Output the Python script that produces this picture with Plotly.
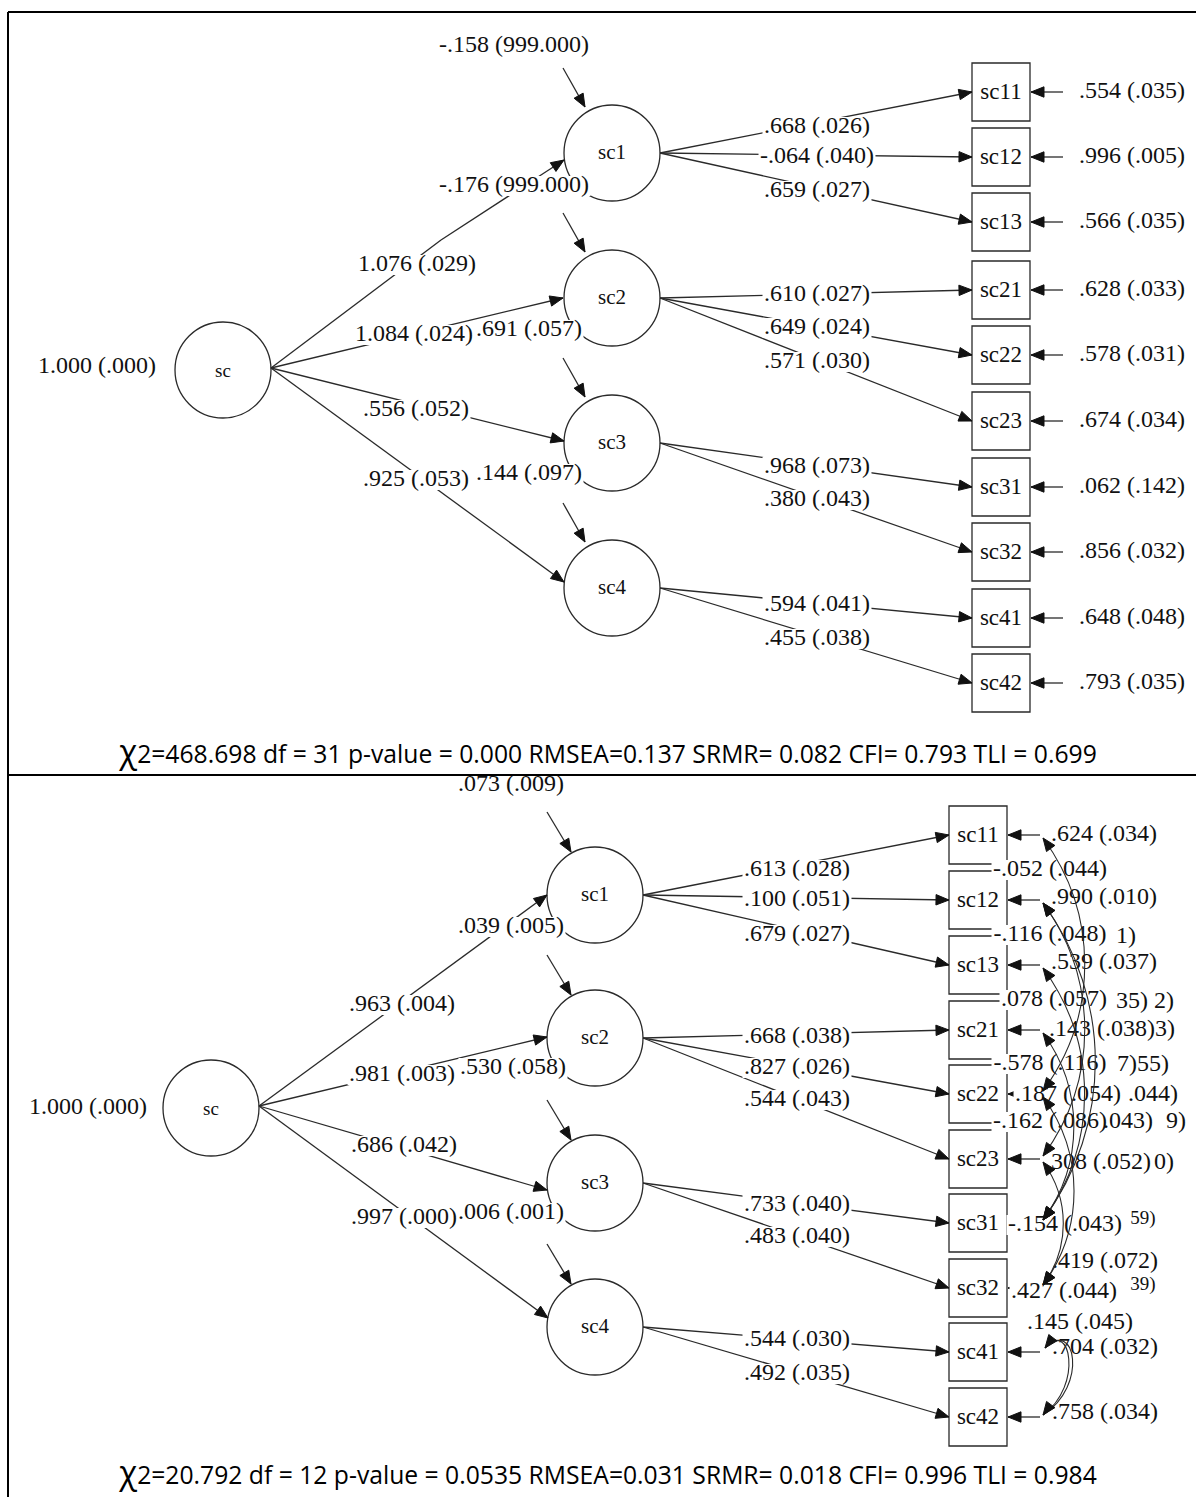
import plotly.graph_objects as go

W, H = 1196, 1497

# ---------------- values ----------------
latent_names = ["sc1", "sc2", "sc3", "sc4"]
indicator_names = ["sc11", "sc12", "sc13", "sc21", "sc22", "sc23", "sc31", "sc32", "sc41", "sc42"]
indicator_factor = [0, 0, 0, 1, 1, 1, 2, 2, 3, 3]

top_sc_variance = "1.000 (.000)"
top_structural = ["1.076 (.029)", "1.084 (.024)", ".556 (.052)", ".925 (.053)"]
top_latent_resid = ["-.158 (999.000)", "-.176 (999.000)", ".691 (.057)", ".144 (.097)"]
top_loadings = [".668 (.026)", "-.064 (.040)", ".659 (.027)", ".610 (.027)", ".649 (.024)",
                ".571 (.030)", ".968 (.073)", ".380 (.043)", ".594 (.041)", ".455 (.038)"]
top_residuals = [".554 (.035)", ".996 (.005)", ".566 (.035)", ".628 (.033)", ".578 (.031)",
                 ".674 (.034)", ".062 (.142)", ".856 (.032)", ".648 (.048)", ".793 (.035)"]
top_fit = "2=468.698 df = 31 p-value = 0.000 RMSEA=0.137 SRMR= 0.082 CFI= 0.793 TLI = 0.699"

bot_sc_variance = "1.000 (.000)"
bot_structural = [".963 (.004)", ".981 (.003)", ".686 (.042)", ".997 (.000)"]
bot_latent_resid = [".073 (.009)", ".039 (.005)", ".530 (.058)", ".006 (.001)"]
bot_loadings = [".613 (.028)", ".100 (.051)", ".679 (.027)", ".668 (.038)", ".827 (.026)",
                ".544 (.043)", ".733 (.040)", ".483 (.040)", ".544 (.030)", ".492 (.035)"]
bot_residuals = [".624 (.034)", ".990 (.010)", ".539 (.037)", ".143 (.038)", ".187 (.054)",
                 ".308 (.052)", "-.154 (.043)", ".427 (.044)", ".704 (.032)", ".758 (.034)"]
bot_covariances = ["-.052 (.044)", "-.116 (.048)", ".078 (.057)", "-.578 (.116)",
                   "-.162 (.086)", ".419 (.072)", ".145 (.045)"]
bot_fragments = ["1)", "35) 2)", "3)", "7)55)", ".044)", ".043)", "9)", "0)", "59)", "39)"]
bot_fit = "2=20.792 df = 12 p-value = 0.0535 RMSEA=0.031 SRMR= 0.018 CFI= 0.996 TLI = 0.984"

# ---------------- layout (positions in pixels) ----------------
TOP = dict(sc=(223, 370), lat_x=612, lat_y=[153, 298, 443, 588], r=48,
           box_x=(972, 1030), box_y=[92, 157, 222, 290, 355, 421, 487, 552, 618, 683],
           sc_var=(97, 367), struct_start=(271, 368),
           struct_via=[(441, 240), None, None, None],
           struct_end=[(564, 160), (563, 298), (564, 441), (564, 582)],
           struct_lbl=[(417, 265), (414, 335), (416, 410), (416, 480)],
           latres_lbl=[(514, 46), (514, 186), (529, 330), (529, 474)],
           latres_arrow=((-49, -85), (-27, -46)),
           load_x=817, load_y=[127, 157, 191, 295, 328, 362, 467, 500, 605, 639],
           res_pos=[(1132, y) for y in [92, 157, 222, 290, 355, 421, 487, 552, 618, 683]],
           res_arrow=(1063, 1031), fit_y=757)
BOT = dict(sc=(211, 1108), lat_x=595, lat_y=[895, 1038, 1183, 1327], r=48,
           box_x=(949, 1007), box_y=[835, 900, 965, 1030, 1094, 1159, 1223, 1288, 1352, 1417],
           sc_var=(88, 1108), struct_start=(259, 1106),
           struct_via=[None, None, None, None],
           struct_end=[(547, 895), (547, 1037), (547, 1190), (548, 1318)],
           struct_lbl=[(402, 1005), (402, 1075), (404, 1146), (404, 1218)],
           latres_lbl=[(511, 785), (511, 927), (513, 1068), (511, 1213)],
           latres_arrow=((-48, -83), (-24, -43)),
           load_x=797, load_y=[870, 900, 935, 1037, 1068, 1100, 1205, 1237, 1340, 1374],
           res_pos=[(1104, 835), (1104, 898), (1104, 963), (1102, 1030), (1068, 1095),
                    (1098, 1163), (1065, 1225), (1064, 1292), (1105, 1348), (1105, 1413)],
           res_arrow=(1040, 1008), fit_y=1478)
bot_cov_pos = [(1050, 870), (1050, 935), (1054, 1000), (1050, 1064), (1050, 1122),
               (1105, 1262), (1080, 1323)]
bot_frag_pos = [(1126, 937), (1145, 1002), (1165, 1030), (1143, 1065), (1153, 1095),
                (1128, 1122), (1176, 1122), (1164, 1163), (1143, 1219), (1143, 1285)]
# covariance arcs between indicator rows of the lower model (row_i, row_j)
bot_arcs = [(0, 4), (1, 5), (1, 6), (2, 6), (3, 6), (4, 7), (5, 7)]
ARC_X = 1043

LINE = "#2a2a2a"
TXT = "#111111"
SERIF = "Liberation Serif"
FS_LBL = 24
FS_NODE = 21
FS_SC = 19
FS_BOX = 23

CW = {".": 0.25, " ": 0.25, "(": 0.333, ")": 0.333, "-": 0.333, "s": 0.389, "c": 0.444}


def text_w(s, fs):
    return sum(CW.get(ch, 0.5) for ch in s) * fs


shapes = []
top_shapes = []   # drawn above the text (covariance arcs)
labels = []       # (x, y, text, size)
node_texts = []   # (x, y, text, size)


def line(p, q, dest=None, w=1.3):
    (shapes if dest is None else dest).append(
        dict(type="line", x0=p[0], y0=p[1], x1=q[0], y1=q[1], xref="x", yref="y",
             line=dict(color=LINE, width=w), layer="below" if dest is None else "above"))


def head(tip, frm, dest=None, L=13, hw=5.2):
    dx, dy = tip[0] - frm[0], tip[1] - frm[1]
    n = (dx * dx + dy * dy) ** 0.5
    ux, uy = dx / n, dy / n
    bx, by = tip[0] - ux * L, tip[1] - uy * L
    px, py = -uy * hw, ux * hw
    path = f"M {tip[0]},{tip[1]} L {bx + px},{by + py} L {bx - px},{by - py} Z"
    (shapes if dest is None else dest).append(
        dict(type="path", path=path, xref="x", yref="y", fillcolor="#111111",
             line=dict(color="#111111", width=1), layer="below" if dest is None else "above"))


def arrow(frm, tip, via=None):
    if via is None:
        line(frm, tip)
        head(tip, frm)
    else:
        line(frm, via)
        line(via, tip)
        head(tip, via)


def circle(c, r):
    shapes.append(dict(type="circle", x0=c[0] - r, x1=c[0] + r, y0=c[1] - r, y1=c[1] + r,
                       xref="x", yref="y", line=dict(color=LINE, width=1.3), layer="below"))


def rect(x0, x1, y0, y1):
    shapes.append(dict(type="rect", x0=x0, x1=x1, y0=y0, y1=y1, xref="x", yref="y",
                       line=dict(color=LINE, width=1.3), layer="below"))


def draw_model(G, sc_var, structural, lat_res, loadings, residuals):
    r = G["r"]
    circle(G["sc"], r)
    node_texts.append((G["sc"][0], G["sc"][1] + 2, "sc", FS_SC))
    labels.append((G["sc_var"][0], G["sc_var"][1], sc_var, FS_LBL))
    for k, name in enumerate(latent_names):
        c = (G["lat_x"], G["lat_y"][k])
        circle(c, r)
        node_texts.append((c[0], c[1] + 1, name, FS_NODE))
        arrow(G["struct_start"], G["struct_end"][k], G["struct_via"][k])
        labels.append((G["struct_lbl"][k][0], G["struct_lbl"][k][1], structural[k], FS_LBL))
        (sx, sy), (tx, ty) = G["latres_arrow"]
        arrow((c[0] + sx, c[1] + sy), (c[0] + tx, c[1] + ty))
        labels.append((G["latres_lbl"][k][0], G["latres_lbl"][k][1], lat_res[k], FS_LBL))
    x0, x1 = G["box_x"]
    for i, name in enumerate(indicator_names):
        y = G["box_y"][i]
        rect(x0, x1, y - 29, y + 29)
        node_texts.append(((x0 + x1) / 2, y + 1, name, FS_BOX))
        f = indicator_factor[i]
        arrow((G["lat_x"] + r, G["lat_y"][f]), (x0, y))
        labels.append((G["load_x"], G["load_y"][i], loadings[i], FS_LBL))
        arrow((G["res_arrow"][0], y), (G["res_arrow"][1], y))
        labels.append((G["res_pos"][i][0], G["res_pos"][i][1], residuals[i], FS_LBL))


draw_model(TOP, top_sc_variance, top_structural, top_latent_resid, top_loadings, top_residuals)
draw_model(BOT, bot_sc_variance, bot_structural, bot_latent_resid, bot_loadings, bot_residuals)

for (x, y), s in zip(bot_cov_pos, bot_covariances):
    labels.append((x, y, s, FS_LBL))
for (x, y), s in zip(bot_frag_pos, bot_fragments):
    labels.append((x, y, s, FS_LBL if s not in ("59)", "39)") else 19))

# white backgrounds behind labels: drawn after the lines, so they mask them
for (x, y, s, fs) in labels:
    hx, hy = text_w(s, fs) / 2 + 1.5, 0.42 * fs
    shapes.append(dict(type="rect", x0=x - hx, x1=x + hx, y0=y - hy, y1=y + hy,
                       xref="x", yref="y", fillcolor="white", line=dict(width=0),
                       layer="below"))

# frame
for (a, b, c, d) in [(8, 8, 12, H), (8, W, 12, 12), (8, W, 775, 775)]:
    shapes.append(dict(type="line", x0=a, x1=b, y0=c, y1=d, xref="x", yref="y",
                       line=dict(color="black", width=2), layer="above"))

# covariance arcs (drawn above the labels, as in the reference)
ys = BOT["box_y"]
for i, j in bot_arcs:
    y0, y1 = ys[i] + 3, ys[j] - 3
    span = y1 - y0
    b = 0.22 * span
    c1 = (ARC_X + b, y0 + 0.30 * span)
    c2 = (ARC_X + b, y1 - 0.30 * span)
    path = f"M {ARC_X},{y0} C {c1[0]},{c1[1]} {c2[0]},{c2[1]} {ARC_X},{y1}"
    top_shapes.append(dict(type="path", path=path, xref="x", yref="y",
                           line=dict(color=LINE, width=1.1), layer="above"))
    head((ARC_X, y0), c1, dest=top_shapes)
    head((ARC_X, y1), c2, dest=top_shapes)
for off in (0, 5):
    p0 = (ARC_X + 2, ys[8] - 4)
    p3 = (ARC_X, ys[9] - 2)
    c1 = (1070 + off, 1318)
    c2 = (1084 + off, 1385)
    path = f"M {p0[0]},{p0[1]} C {c1[0]},{c1[1]} {c2[0]},{c2[1]} {p3[0]},{p3[1]}"
    top_shapes.append(dict(type="path", path=path, xref="x", yref="y",
                           line=dict(color=LINE, width=1.1), layer="above"))
head((ARC_X + 2, ys[8] - 4), (1058, 1331), dest=top_shapes)
head((ARC_X, ys[9] - 2), (1060, 1392), dest=top_shapes)

fig = go.Figure()
for group in (labels, node_texts):
    for size in sorted(set(l[3] for l in group)):
        grp = [l for l in group if l[3] == size]
        fig.add_trace(go.Scatter(x=[g[0] for g in grp], y=[g[1] for g in grp],
                                 text=[g[2] for g in grp], mode="text",
                                 textposition="middle center",
                                 textfont=dict(family=SERIF, size=size, color=TXT),
                                 hoverinfo="skip", showlegend=False))

chi = "<span style='font-size:33px'>χ</span>"
fig.add_trace(go.Scatter(x=[608, 608], y=[TOP["fit_y"], BOT["fit_y"]],
                         text=[chi + top_fit, chi + bot_fit], mode="text",
                         textposition="middle center",
                         textfont=dict(family="Open Sans", size=24.7, color="black"),
                         hoverinfo="skip", showlegend=False))

fig.update_layout(width=W, height=H, margin=dict(l=0, r=0, t=0, b=0),
                  paper_bgcolor="white", plot_bgcolor="white", shapes=shapes + top_shapes,
                  showlegend=False)
fig.update_xaxes(range=[0, W], visible=False, fixedrange=True)
fig.update_yaxes(range=[H, 0], visible=False, fixedrange=True)
fig.write_html("out.html", config={"displayModeBar": False},
               post_script="document.body.style.margin='0px';")
